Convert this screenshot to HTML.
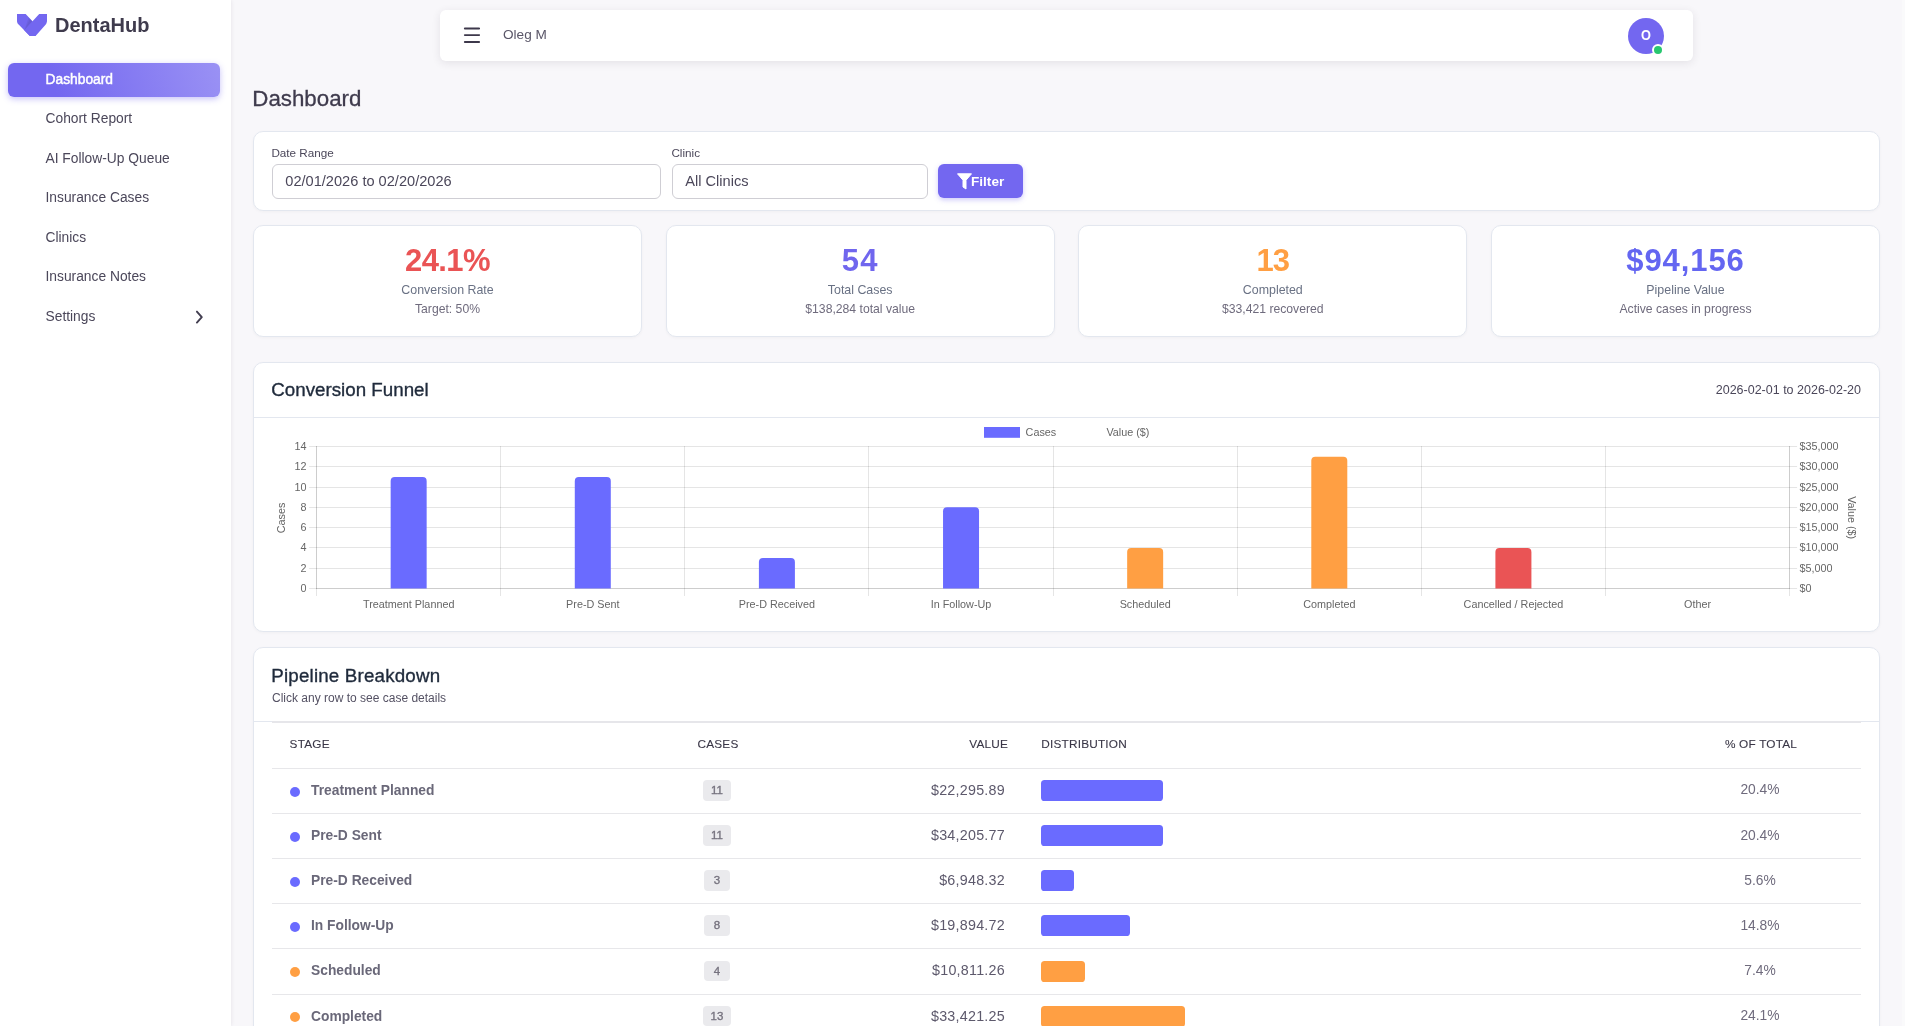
<!DOCTYPE html>
<html lang="en">
<head>
<meta charset="utf-8">
<title>Dashboard - DentaHub</title>
<style>
*{box-sizing:border-box;margin:0;padding:0}
html,body{width:1905px;height:1026px;overflow:hidden}
body{background:#f8f7fa;font-family:"Liberation Sans",Arial,sans-serif;color:#5d596c;position:relative}
.abs{position:absolute}
.t{position:absolute;white-space:nowrap;line-height:1}
/* sidebar */
#side{position:absolute;left:0;top:0;width:231px;height:1026px;background:#fff;box-shadow:0 0 4px rgba(47,43,61,.10)}
#side .brand{left:55px;top:15px;font-size:20px;font-weight:700;color:#3f3b4d;letter-spacing:0}
#side .active{left:8px;top:63px;width:212px;height:34px;border-radius:6px;background:linear-gradient(72deg,#7367f0 22%,rgba(115,103,240,.72) 100%);box-shadow:0 2px 6px rgba(115,103,240,.40)}
#side .mi{left:45.5px;font-size:13.8px;color:#4b475a}
/* navbar */
#nav{position:absolute;left:440px;top:10px;width:1253px;height:51px;background:#fff;border-radius:6px;box-shadow:0 2px 8px rgba(47,43,61,.10)}
/* cards */
.card{position:absolute;background:#fff;border:1px solid #e3e7ef;border-radius:10px;box-shadow:0 1px 3px rgba(47,43,61,.04)}
.lbl{font-size:11.7px;color:#4b475a;margin-left:-.6px;margin-top:-.5px}
.inp{position:absolute;top:164px;height:35px;border:1px solid #cfced4;border-radius:6px;background:#fff}
.inp span{position:absolute;left:12.3px;top:9.3px;font-size:14.6px;line-height:1;color:#4b475a;white-space:nowrap}
.kpi .num{position:absolute;left:0;right:0;text-align:center;top:18.6px;font-size:31px;font-weight:700;line-height:1}
.kpi .l1{position:absolute;left:0;right:0;text-align:center;top:58px;font-size:12.4px;line-height:1;color:#697184}
.kpi .l2{position:absolute;left:0;right:0;text-align:center;top:77px;font-size:12.2px;line-height:1;color:#6f6b7d}
.ctitle{font-size:18.75px;color:#1f2a3b;letter-spacing:0;-webkit-text-stroke:.35px #1f2a3b}
/* table */
.th{position:absolute;top:739px;font-size:11.8px;line-height:1;color:#3a3747;letter-spacing:.2px;-webkit-text-stroke:.1px #3a3747}
.hl{position:absolute;left:272px;width:1589px;height:1px;background:#e7e7ea}
.stg{position:absolute;font-size:13.8px;font-weight:700;color:#6a6879;line-height:1;white-space:nowrap}
.dot{position:absolute;left:290px;width:10px;height:10px;border-radius:50%}
.badge{position:absolute;height:20.5px;border-radius:4px;background:#eaeaed;color:#76737f;font-size:11.5px;font-weight:400;-webkit-text-stroke:.35px #76737f;line-height:21px;text-align:center}
.val{position:absolute;right:900px;font-size:14.3px;letter-spacing:.25px;color:#5d596c;line-height:1;white-space:nowrap}
.bar{position:absolute;left:1041px;height:21px;border-radius:3.6px}
.pct{position:absolute;left:1700px;width:120px;text-align:center;font-size:13.8px;color:#6f6b7d;line-height:1}
</style>
</head>
<body>
<div id="root" style="position:absolute;left:0;top:0;width:1905px;height:1026px;will-change:transform">

<!-- SIDEBAR -->
<div id="side">
  <svg class="abs" style="left:17px;top:14px" width="30" height="22" viewBox="0 0 32 22" preserveAspectRatio="none">
    <path fill="#7367f0" fill-rule="evenodd" d="M0.0017 0V6.854C0.0017 6.854-0.133 9.012 1.981 10.839L13.691 21.996L19.781 21.918L18.804 9.882L16.495 7.173L9.238 0H0.0017Z"/>
    <path opacity="0.06" fill="#161616" fill-rule="evenodd" d="M7.698 16.436L12.52 3.237L16.554 7.256L7.698 16.436Z"/>
    <path opacity="0.06" fill="#161616" fill-rule="evenodd" d="M8.078 15.918L13.942 4.64L16.585 7.285L8.078 15.918Z"/>
    <path fill="#7367f0" fill-rule="evenodd" d="M7.773 16.357L23.656 0H32V6.884C32 6.884 31.826 9.178 30.659 10.406L19.782 22H13.694L7.773 16.357Z"/>
  </svg>
  <div class="t brand">DentaHub</div>
  <div class="abs active"></div>
  <div class="t mi" style="top:73.3px;color:#fff;-webkit-text-stroke:.45px #fff">Dashboard</div>
  <div class="t mi" style="top:112.1px">Cohort Report</div>
  <div class="t mi" style="top:151.6px">AI Follow-Up Queue</div>
  <div class="t mi" style="top:191.1px">Insurance Cases</div>
  <div class="t mi" style="top:230.6px">Clinics</div>
  <div class="t mi" style="top:270.1px">Insurance Notes</div>
  <div class="t mi" style="top:309.6px">Settings</div>
  <svg class="abs" style="left:193px;top:310px" width="12" height="15" viewBox="0 0 12 15"><path d="M3.9 1.6 L8.8 7.2 L3.9 12.6" fill="none" stroke="#423e50" stroke-width="1.9" stroke-linecap="round" stroke-linejoin="round"/></svg>
</div>

<!-- NAVBAR -->
<div id="nav">
  <svg class="abs" style="left:23px;top:17px" width="17" height="17" viewBox="0 0 17 17">
    <g stroke="#3d384b" stroke-width="1.8" stroke-linecap="round"><line x1="1.8" y1="1.5" x2="16.2" y2="1.5"/><line x1="1.8" y1="8.1" x2="16.2" y2="8.1"/><line x1="1.8" y1="15" x2="16.2" y2="15"/></g>
  </svg>
  <div class="t" style="left:63px;top:18.3px;font-size:13.6px;color:#5a5668">Oleg M</div>
  <div class="abs" style="left:1188px;top:8px;width:36px;height:36px;border-radius:50%;background:#7367f0"></div>
  <div class="t" style="left:1188px;top:18.3px;width:36px;text-align:center;font-size:14.5px;font-weight:700;color:#fff;transform:scaleX(.88)">O</div>
  <div class="abs" style="left:1213.5px;top:36px;width:8px;height:8px;border-radius:50%;background:#28c76f;box-shadow:0 0 0 2px #fff"></div>
</div>

<!-- TITLE -->
<div class="t" style="left:252.3px;top:88.2px;font-size:22.3px;color:#3f3b4d;-webkit-text-stroke:.3px #3f3b4d">Dashboard</div>

<!-- FILTER CARD -->
<div class="card" style="left:253px;top:131px;width:1627px;height:80px"></div>
<div class="t lbl" style="left:272px;top:147px">Date Range</div>
<div class="inp" style="left:272px;width:389px"><span>02/01/2026 to 02/20/2026</span></div>
<div class="t lbl" style="left:672px;top:147px">Clinic</div>
<div class="inp" style="left:672px;width:256px"><span>All Clinics</span></div>
<div class="abs" style="left:938px;top:164px;width:85px;height:34px;border-radius:6px;background:#7367f0;box-shadow:0 2px 5px rgba(115,103,240,.35)"></div>
<svg class="abs" style="left:956.5px;top:173px" width="15" height="17" viewBox="0 0 15 17"><path d="M0.5 0.8 H14.5 L9 7.2 V16 L6 14 V7.2 Z" fill="#fff" stroke="#fff" stroke-width="1" stroke-linejoin="round"/></svg>
<div class="t" style="left:971px;top:175px;font-size:13.6px;font-weight:700;color:#fff">Filter</div>

<!-- KPI CARDS -->
<div class="card kpi" style="left:253px;top:225.3px;width:389px;height:111.5px">
  <div class="num" style="color:#ea5455;letter-spacing:-.6px">24.1%</div><div class="l1">Conversion Rate</div><div class="l2">Target: 50%</div></div>
<div class="card kpi" style="left:665.7px;top:225.3px;width:389px;height:111.5px">
  <div class="num" style="color:#7066ee;letter-spacing:1.2px">54</div><div class="l1">Total Cases</div><div class="l2">$138,284 total value</div></div>
<div class="card kpi" style="left:1078.3px;top:225.3px;width:389px;height:111.5px">
  <div class="num" style="color:#ff9f43;letter-spacing:-1px">13</div><div class="l1">Completed</div><div class="l2">$33,421 recovered</div></div>
<div class="card kpi" style="left:1491px;top:225.3px;width:389px;height:111.5px">
  <div class="num" style="color:#6466f1;letter-spacing:.9px">$94,156</div><div class="l1">Pipeline Value</div><div class="l2">Active cases in progress</div></div>

<!-- CHART CARD -->
<div class="card" style="left:253px;top:362px;width:1627px;height:270px"></div>
<div class="t ctitle" style="left:271.3px;top:380.9px">Conversion Funnel</div>
<div class="t" style="right:44px;top:384px;font-size:12.5px;color:#4b475a">2026-02-01 to 2026-02-20</div>
<div class="abs" style="left:254px;top:417px;width:1625px;height:1px;background:#e3e7ef"></div>
<div id="chart"><svg class="abs" style="left:0;top:0" width="1905" height="1026" viewBox="0 0 1905 1026" font-family="Liberation Sans, Arial, sans-serif" font-size="10.8" fill="#666">
<line x1="309.1" y1="588.5" x2="1789.6" y2="588.5" stroke="rgba(0,0,0,0.1)" stroke-width="1"/>
<line x1="1789.6" y1="588.5" x2="1797.1" y2="588.5" stroke="rgba(0,0,0,0.1)" stroke-width="1"/>
<line x1="309.1" y1="568.5" x2="1789.6" y2="568.5" stroke="rgba(0,0,0,0.1)" stroke-width="1"/>
<line x1="1789.6" y1="568.5" x2="1797.1" y2="568.5" stroke="rgba(0,0,0,0.1)" stroke-width="1"/>
<line x1="309.1" y1="547.5" x2="1789.6" y2="547.5" stroke="rgba(0,0,0,0.1)" stroke-width="1"/>
<line x1="1789.6" y1="547.5" x2="1797.1" y2="547.5" stroke="rgba(0,0,0,0.1)" stroke-width="1"/>
<line x1="309.1" y1="527.5" x2="1789.6" y2="527.5" stroke="rgba(0,0,0,0.1)" stroke-width="1"/>
<line x1="1789.6" y1="527.5" x2="1797.1" y2="527.5" stroke="rgba(0,0,0,0.1)" stroke-width="1"/>
<line x1="309.1" y1="507.5" x2="1789.6" y2="507.5" stroke="rgba(0,0,0,0.1)" stroke-width="1"/>
<line x1="1789.6" y1="507.5" x2="1797.1" y2="507.5" stroke="rgba(0,0,0,0.1)" stroke-width="1"/>
<line x1="309.1" y1="487.5" x2="1789.6" y2="487.5" stroke="rgba(0,0,0,0.1)" stroke-width="1"/>
<line x1="1789.6" y1="487.5" x2="1797.1" y2="487.5" stroke="rgba(0,0,0,0.1)" stroke-width="1"/>
<line x1="309.1" y1="466.5" x2="1789.6" y2="466.5" stroke="rgba(0,0,0,0.1)" stroke-width="1"/>
<line x1="1789.6" y1="466.5" x2="1797.1" y2="466.5" stroke="rgba(0,0,0,0.1)" stroke-width="1"/>
<line x1="309.1" y1="446.5" x2="1789.6" y2="446.5" stroke="rgba(0,0,0,0.1)" stroke-width="1"/>
<line x1="1789.6" y1="446.5" x2="1797.1" y2="446.5" stroke="rgba(0,0,0,0.1)" stroke-width="1"/>
<line x1="316.5" y1="446" x2="316.5" y2="596" stroke="rgba(0,0,0,0.1)" stroke-width="1"/>
<line x1="500.5" y1="446" x2="500.5" y2="596" stroke="rgba(0,0,0,0.1)" stroke-width="1"/>
<line x1="684.5" y1="446" x2="684.5" y2="596" stroke="rgba(0,0,0,0.1)" stroke-width="1"/>
<line x1="868.5" y1="446" x2="868.5" y2="596" stroke="rgba(0,0,0,0.1)" stroke-width="1"/>
<line x1="1053.5" y1="446" x2="1053.5" y2="596" stroke="rgba(0,0,0,0.1)" stroke-width="1"/>
<line x1="1237.5" y1="446" x2="1237.5" y2="596" stroke="rgba(0,0,0,0.1)" stroke-width="1"/>
<line x1="1421.5" y1="446" x2="1421.5" y2="596" stroke="rgba(0,0,0,0.1)" stroke-width="1"/>
<line x1="1605.5" y1="446" x2="1605.5" y2="596" stroke="rgba(0,0,0,0.1)" stroke-width="1"/>
<line x1="1789.5" y1="446" x2="1789.5" y2="596" stroke="rgba(0,0,0,0.1)" stroke-width="1"/>
<line x1="316.1" y1="588.5" x2="1789.6" y2="588.5" stroke="rgba(0,0,0,0.1)" stroke-width="1"/>
<line x1="316.5" y1="446" x2="316.5" y2="589" stroke="rgba(0,0,0,0.1)" stroke-width="1"/>
<line x1="1789.5" y1="446" x2="1789.5" y2="589" stroke="rgba(0,0,0,0.1)" stroke-width="1"/>
<text x="306.6" y="591.9" text-anchor="end">0</text>
<text x="306.6" y="571.6" text-anchor="end">2</text>
<text x="306.6" y="551.3" text-anchor="end">4</text>
<text x="306.6" y="531.0" text-anchor="end">6</text>
<text x="306.6" y="510.8" text-anchor="end">8</text>
<text x="306.6" y="490.5" text-anchor="end">10</text>
<text x="306.6" y="470.2" text-anchor="end">12</text>
<text x="306.6" y="449.9" text-anchor="end">14</text>
<text x="1799.6" y="591.9">$0</text>
<text x="1799.6" y="571.6">$5,000</text>
<text x="1799.6" y="551.3">$10,000</text>
<text x="1799.6" y="531.0">$15,000</text>
<text x="1799.6" y="510.8">$20,000</text>
<text x="1799.6" y="490.5">$25,000</text>
<text x="1799.6" y="470.2">$30,000</text>
<text x="1799.6" y="449.9">$35,000</text>
<text transform="translate(284.9,518) rotate(-90)" text-anchor="middle">Cases</text>
<text transform="translate(1847.5,517.7) rotate(90)" text-anchor="middle">Value ($)</text>
<path d="M390.66 588.5 V480.93 Q390.66 476.93 394.66 476.93 H422.66 Q426.66 476.93 426.66 480.93 V588.5 Z" fill="#6a6bff"/>
<text x="408.7" y="607.6" text-anchor="middle">Treatment Planned</text>
<path d="M574.79 588.5 V480.93 Q574.79 476.93 578.79 476.93 H606.79 Q610.79 476.93 610.79 480.93 V588.5 Z" fill="#6a6bff"/>
<text x="592.8" y="607.6" text-anchor="middle">Pre-D Sent</text>
<path d="M758.91 588.5 V562.07 Q758.91 558.07 762.91 558.07 H790.91 Q794.91 558.07 794.91 562.07 V588.5 Z" fill="#6a6bff"/>
<text x="776.9" y="607.6" text-anchor="middle">Pre-D Received</text>
<path d="M943.04 588.5 V511.36 Q943.04 507.36 947.04 507.36 H975.04 Q979.04 507.36 979.04 511.36 V588.5 Z" fill="#6a6bff"/>
<text x="961.0" y="607.6" text-anchor="middle">In Follow-Up</text>
<path d="M1127.16 588.5 V551.93 Q1127.16 547.93 1131.16 547.93 H1159.16 Q1163.16 547.93 1163.16 551.93 V588.5 Z" fill="#ff9f43"/>
<text x="1145.2" y="607.6" text-anchor="middle">Scheduled</text>
<path d="M1311.29 588.5 V460.64 Q1311.29 456.64 1315.29 456.64 H1343.29 Q1347.29 456.64 1347.29 460.64 V588.5 Z" fill="#ff9f43"/>
<text x="1329.3" y="607.6" text-anchor="middle">Completed</text>
<path d="M1495.41 588.5 V551.93 Q1495.41 547.93 1499.41 547.93 H1527.41 Q1531.41 547.93 1531.41 551.93 V588.5 Z" fill="#ea5455"/>
<text x="1513.4" y="607.6" text-anchor="middle">Cancelled / Rejected</text>
<text x="1697.5" y="607.6" text-anchor="middle">Other</text>
<rect x="984" y="427" width="36" height="10.8" fill="#6a6bff"/>
<text x="1025.6" y="435.6">Cases</text>
<text x="1106.4" y="435.6">Value ($)</text>
</svg></div><!--/chart-->

<!-- PIPELINE CARD -->
<div class="card" style="left:253px;top:647px;width:1627px;height:420px"></div>
<div class="t ctitle" style="left:271.3px;top:666.9px;letter-spacing:.18px">Pipeline Breakdown</div>
<div class="t" style="left:272px;top:692.3px;font-size:12px;color:#545163">Click any row to see case details</div>
<div class="abs" style="left:254px;top:721px;width:1625px;height:1px;background:#e3e7ef"></div>
<div id="table"><div class="abs" style="left:272px;top:721px;width:1589px;height:2px;background:#e6e6ea"></div>
<div class="th" style="left:289.6px">STAGE</div>
<div class="th" style="left:668px;width:100px;text-align:center">CASES</div>
<div class="th" style="left:908px;width:100px;text-align:right;letter-spacing:.2px">VALUE</div>
<div class="th" style="left:1041.3px">DISTRIBUTION</div>
<div class="th" style="left:1711px;width:100px;text-align:center">% OF TOTAL</div>
<div class="hl" style="top:768px"></div>
<div class="dot" style="top:786.5px;background:#6a6bff"></div>
<div class="stg" style="left:311px;top:784.0px">Treatment Planned</div>
<div class="badge" style="left:703.0px;top:780.1px;width:28px;line-height:20.5px">11</div>
<div class="val" style="top:783.0px">$22,295.89</div>
<div class="bar" style="top:780.1px;width:122.2px;background:#6a6bff"></div>
<div class="pct" style="top:783.4px">20.4%</div>
<div class="hl" style="top:813.1px"></div>
<div class="dot" style="top:831.6px;background:#6a6bff"></div>
<div class="stg" style="left:311px;top:829.1px">Pre-D Sent</div>
<div class="badge" style="left:703.0px;top:825.2px;width:28px;line-height:20.5px">11</div>
<div class="val" style="top:828.1px">$34,205.77</div>
<div class="bar" style="top:825.2px;width:122.2px;background:#6a6bff"></div>
<div class="pct" style="top:828.5px">20.4%</div>
<div class="hl" style="top:858.2px"></div>
<div class="dot" style="top:876.7px;background:#6a6bff"></div>
<div class="stg" style="left:311px;top:874.2px">Pre-D Received</div>
<div class="badge" style="left:704.0px;top:870.3px;width:26px;line-height:20.5px">3</div>
<div class="val" style="top:873.2px">$6,948.32</div>
<div class="bar" style="top:870.3px;width:33.3px;background:#6a6bff"></div>
<div class="pct" style="top:873.6px">5.6%</div>
<div class="hl" style="top:903.3px"></div>
<div class="dot" style="top:921.8px;background:#6a6bff"></div>
<div class="stg" style="left:311px;top:919.3px">In Follow-Up</div>
<div class="badge" style="left:704.0px;top:915.4px;width:26px;line-height:20.5px">8</div>
<div class="val" style="top:918.3px">$19,894.72</div>
<div class="bar" style="top:915.4px;width:88.9px;background:#6a6bff"></div>
<div class="pct" style="top:918.7px">14.8%</div>
<div class="hl" style="top:948.4px"></div>
<div class="dot" style="top:966.9px;background:#ff9f43"></div>
<div class="stg" style="left:311px;top:964.4px">Scheduled</div>
<div class="badge" style="left:704.0px;top:960.5px;width:26px;line-height:20.5px">4</div>
<div class="val" style="top:963.4px">$10,811.26</div>
<div class="bar" style="top:960.5px;width:44.4px;background:#ff9f43"></div>
<div class="pct" style="top:963.8px">7.4%</div>
<div class="hl" style="top:993.5px"></div>
<div class="dot" style="top:1012.0px;background:#ff9f43"></div>
<div class="stg" style="left:311px;top:1009.5px">Completed</div>
<div class="badge" style="left:703.0px;top:1005.6px;width:28px;line-height:20.5px">13</div>
<div class="val" style="top:1008.5px">$33,421.25</div>
<div class="bar" style="top:1005.6px;width:144.4px;background:#ff9f43"></div>
<div class="pct" style="top:1008.9px">24.1%</div>
<div class="hl" style="top:1038.6px"></div></div><!--/table-->

<div class="abs" style="left:1902px;top:0;width:3px;height:1026px;background:#fafafb"></div>
</div>
</body>
</html>
